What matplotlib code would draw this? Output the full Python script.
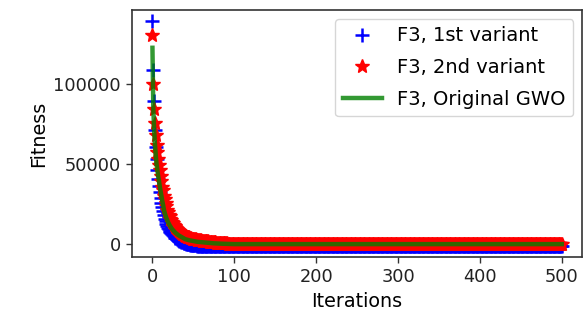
import matplotlib
matplotlib.use('Agg')
import matplotlib.pyplot as plt
import numpy as np

# best fitness per iteration (first iterations, then plateau)
gwo_head = [122900, 86000, 72000, 63000, 56000, 50000, 46000, 42500, 39500, 36000,
            33000, 30000, 27000, 24500, 21500, 19500, 17800, 16300, 15000, 13800,
            12800, 11800, 11000, 10200, 9400, 8800, 8200, 7700, 7200, 6700,
            6300, 5900, 5500, 5200, 4900, 4600, 4300, 4000, 3700, 3400,
            3100, 2950, 2800, 2650, 2500, 2400, 2300, 2200, 2100, 2000,
            1900, 1800, 1700, 1600, 1500, 1450, 1400, 1300, 1250, 1200,
            1150, 1100, 1050, 1000, 950, 900, 860, 820, 780, 740,
            700, 660, 620, 580, 540, 500, 470, 440, 410, 380,
            350, 330, 310, 290, 270, 250, 230, 210, 190, 170,
            150, 130, 110, 90, 70, 50, 40, 30, 20, 10]
gwo_tail = [0] * 401

var2_head = [130600, 100000, 84400, 76000, 68500, 62000, 57500, 53500, 49500, 46500,
             42500, 39500, 36000, 33800, 30000, 28000, 25500, 23800, 21500, 20300,
             18500, 17300, 16000, 15200, 14000, 13200, 12000, 11500, 10600, 10200,
             9400, 9000, 8400, 8100, 7400, 7100, 6600, 6400, 5900, 5700,
             5300, 5100, 4700, 4600, 4300, 4200, 3900, 3800, 3500, 3450,
             3200, 3150, 3000, 2950, 2800, 2750, 2600, 2550, 2400, 2350,
             2200, 2150, 2100, 2000, 1950, 1900, 1800, 1750, 1700, 1600,
             1550, 1500, 1400, 1350, 1300, 1200, 1150, 1100, 1000, 950,
             900, 850, 800, 750, 700, 650, 600, 550, 500, 450,
             420, 400, 380, 360, 340, 320, 310, 300, 300, 300]
var2_tail = [300] * 401

var1_head = [139600, 108700, 89600, 71200, 61000, 53000, 46500, 41000, 36500, 32500,
             29000, 26000, 23000, 20500, 18000, 16000, 14300, 12800, 11500, 10300,
             9300, 8400, 7600, 6900, 6200, 5600, 5000, 4500, 4000, 3600,
             3200, 2800, 2500, 2200, 1900, 1600, 1300, 1100, 900, 700,
             500, 300, 100, 0, -100, -200, -300, -400, -500, -600,
             -650, -700, -750, -800, -850, -900, -950, -1000, -1000, -1000]
var1_tail = [-1000] * 441

gwo = np.array(gwo_head + gwo_tail)
var1 = np.array(var1_head + var1_tail)
var2 = np.array(var2_head + var2_tail)
iterations = np.arange(len(gwo))

plt.rcParams['font.family'] = 'DejaVu Sans'
plt.rcParams['font.size'] = 12.8

fig = plt.figure(figsize=(5.84, 3.29), dpi=100)
ax = fig.add_axes([0.226, 0.219, 0.771, 0.751])

ax.plot(iterations, var1, 'b+', markersize=10, markeredgewidth=1.8, label='F3, 1st variant')
ax.plot(iterations, var2, 'r*', markersize=10, label='F3, 2nd variant')
ax.plot(iterations, gwo, color='g', alpha=0.8, linewidth=3.2, label='F3, Original GWO')

ax.set_xlabel('Iterations', fontsize=13.8)
ax.set_ylabel('Fitness', fontsize=13.8)
ax.set_xticks([0, 100, 200, 300, 400, 500])
ax.set_yticks([0, 50000, 100000])
ax.tick_params(length=4.5, width=1.0, colors='#333333', labelcolor='#222222')
for s in ax.spines.values():
    s.set_linewidth(1.2)
    s.set_color('#333333')

ax.legend(loc='upper right', fontsize=14, borderaxespad=0.45, labelspacing=0.65)

fig.savefig('out.png', dpi=100)
